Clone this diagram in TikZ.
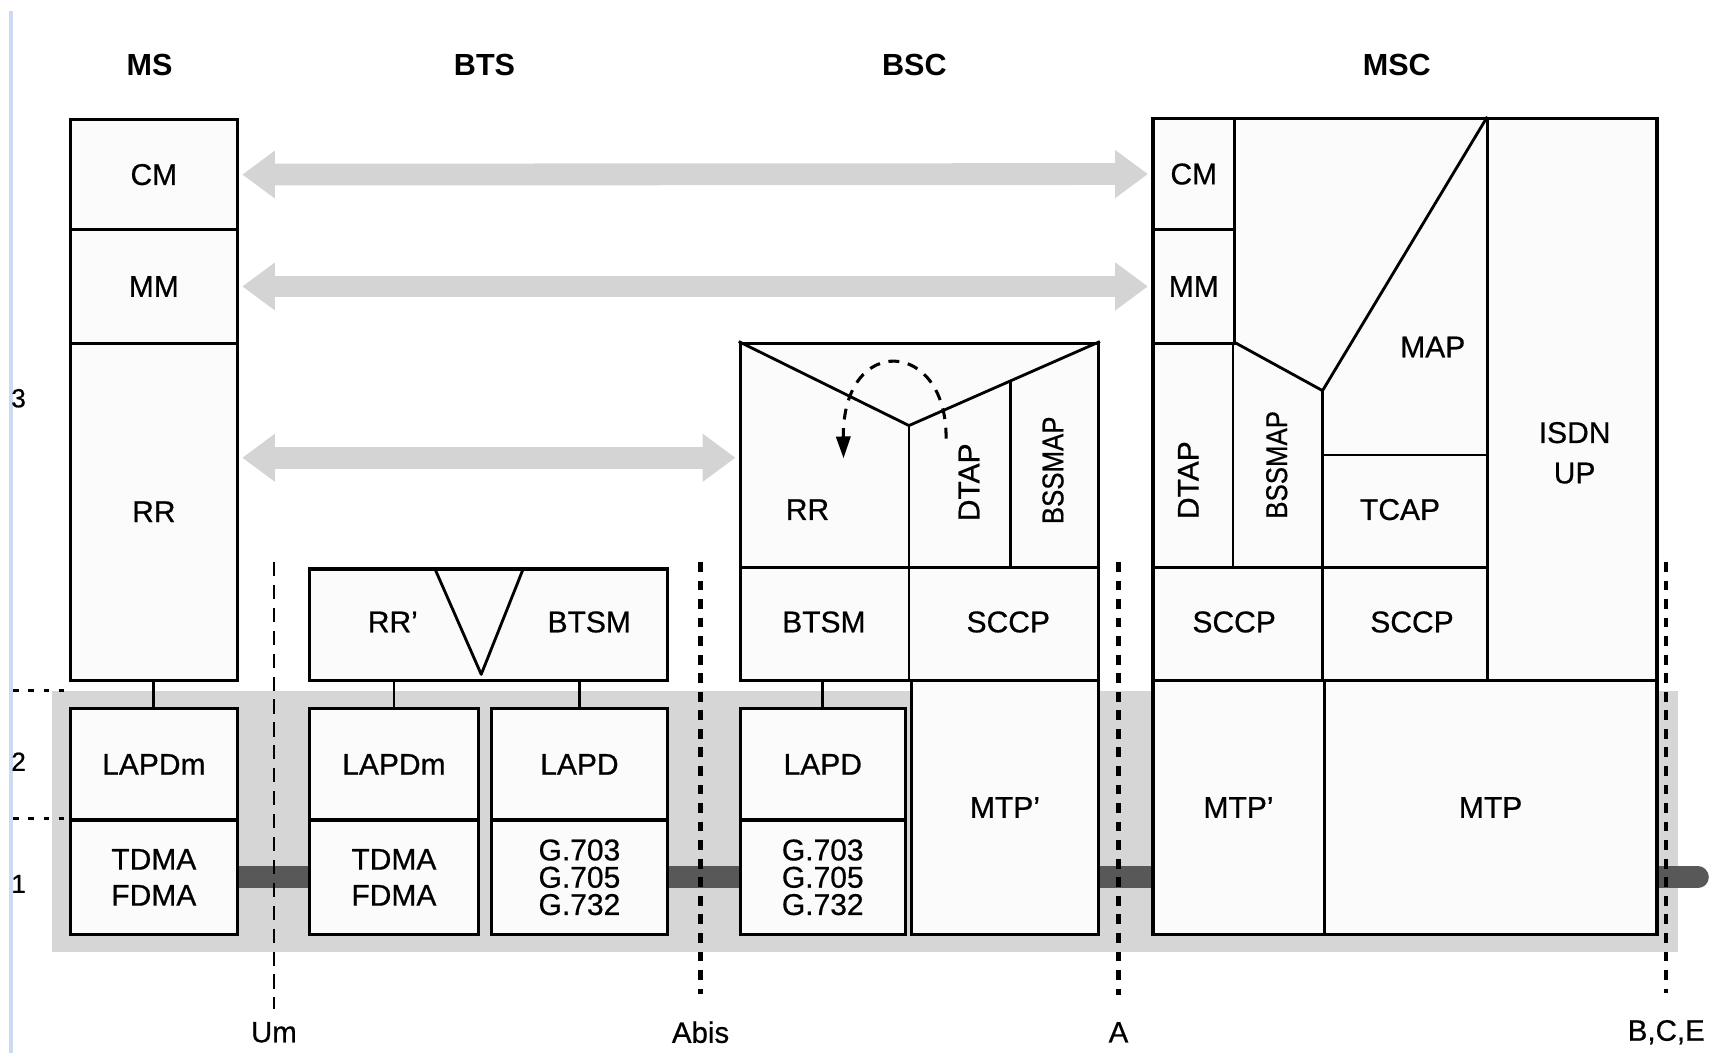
\documentclass[tikz,border=0pt]{standalone}
\usepackage{fontspec}
\usepackage{graphicx}
\setmainfont{Liberation Sans}
\newfontfamily\medfont[FakeBold=0.6]{Liberation Sans}
\usetikzlibrary{arrows.meta,backgrounds}
\definecolor{bandgray}{RGB}{214,214,214}
\definecolor{bargray}{RGB}{88,88,88}
\definecolor{arrowgray}{RGB}{212,212,212}
\definecolor{boxfill}{RGB}{251,251,251}
\definecolor{edgeblue}{RGB}{205,218,240}
\newcommand{\boxfnt}{\medfont\fontsize{27.5}{26}\selectfont}
\newcommand{\titlefnt}{\fontsize{28}{28}\selectfont\bfseries}
\newcommand{\smallfnt}{\medfont\fontsize{27}{26}\selectfont}
\newcommand{\numfnt}{\medfont\fontsize{24}{26}\selectfont}
\newcommand{\narrow}[1]{\scalebox{0.86}[1]{#1}}
\tikzset{
  box/.style={draw, line width=3pt, fill=boxfill, inner sep=0pt, anchor=north west, font=\boxfnt, align=center},
  lbl/.style={font=\boxfnt, inner sep=0pt, align=center},
  ttl/.style={font=\titlefnt, inner sep=0pt},
  ifl/.style={font=\smallfnt, inner sep=0pt},
  numl/.style={font=\numfnt, inner sep=0pt},
  inner/.style={line width=2.6pt, line join=round},
  bigarrow/.style={line width=20pt, draw=arrowgray, shorten <=3pt, shorten >=3pt,
     {Triangle[length=30pt,width=42pt]}-{Triangle[length=30pt,width=42pt]}},
  bar/.style={line width=20pt, draw=bargray},
  umline/.style={line width=2.2pt, dash pattern=on 13pt off 8pt},
  ifline/.style={line width=4pt, dash pattern=on 9pt off 8pt},
  dotline/.style={line width=3.2pt, dash pattern=on 5pt off 9pt},
  arcdash/.style={line width=2.8pt, dash pattern=on 10pt off 8pt, -{Triangle[length=20pt,width=13pt]}}
}
\begin{document}
\begin{tikzpicture}[x=1pt,y=-1pt]
\useasboundingbox (0,0) rectangle (1568,965);
\draw[edgeblue, line width=3pt] (10,10) -- (10,965);

% titles
\node[ttl] (tms) at (137,60) {MS};
\node[ttl] (tbts) at (444,60) {BTS};
\node[ttl] (tbsc) at (838,60) {BSC};
\node[ttl] (tmsc) at (1280,60) {MSC};

% layer numbers
\node[numl] (l3) at (17,365) {3};
\node[numl] (l2) at (17,698) {2};
\node[numl] (l1) at (17,810) {1};

% MS
\node[box, minimum width=153pt, minimum height=101pt] (mscm) at (63,108) {CM};
\node[box, minimum width=153pt, minimum height=104pt] (msmm) at (63,209) {MM};
\node[box, minimum width=153pt, minimum height=309pt] (msrr) at (63,313) {RR};
\node[box, minimum width=153pt, minimum height=102pt] (mslapdm) at (63,648) {LAPDm};
\node[box, minimum width=153pt, minimum height=105pt] (mstdma) at (63,750) {TDMA\\[7pt]FDMA};
\draw[inner] (msrr.south) -- (msrr.south |- mslapdm.north);

% BTS
\node[box, minimum width=328pt, minimum height=102pt] (btsup) at (282,520) {};
\draw[inner] (398,520) -- (441,618) -- (480,520);
\node[lbl] (btsrr) at (360,570) {RR’};
\node[lbl] (btsbtsm) at (540,570) {BTSM};
\node[box, minimum width=155pt, minimum height=102pt] (btslapdm) at (282,648) {LAPDm};
\node[box, minimum width=155pt, minimum height=105pt] (btstdma) at (282,750) {TDMA\\[7pt]FDMA};
\node[box, minimum width=161pt, minimum height=102pt] (btslapd) at (449,648) {LAPD};
\node[box, minimum width=161pt, minimum height=105pt] (btsg) at (449,750) {G.703\\[-1pt]G.705\\[-1pt]G.732};
\draw[inner] (btslapdm.north) -- (btslapdm.north |- btsup.south);
\draw[inner] (btslapd.north) -- (btslapd.north |- btsup.south);

% BSC
\node[box, minimum width=328pt, minimum height=309pt] (bscup) at (677,313) {};
\draw[inner] (bscup.north west) -- (833,390) -- (bscup.north east);
\draw[inner] (833,390) -- (833,622);
\draw[inner] (926,348.5) -- (926,520);
\draw[inner] (677,520) -- (1005,520);
\node[lbl] (bscrr) at (740,467) {RR};
\node[lbl, rotate=90] (bscdtap) at (888,442) {DTAP};
\node[lbl, rotate=90] (bscbssmap) at (965,431) {\narrow{BSSMAP}};
\node[lbl] (bscbtsm) at (755,570) {BTSM};
\node[lbl] (bscsccp) at (924,570) {SCCP};
\draw[arcdash] (867,402) .. controls (868,310) and (772,305) .. (773,420);
\node[box, minimum width=151pt, minimum height=102pt] (bsclapd) at (677,648) {LAPD};
\node[box, minimum width=151pt, minimum height=105pt] (bscg) at (677,750) {G.703\\[-1pt]G.705\\[-1pt]G.732};
\node[box, minimum width=171pt, minimum height=233pt] (bscmtp) at (834,622) {MTP’};
\draw[inner] (bsclapd.north) -- (bsclapd.north |- bscup.south);

% MSC
\node[box, minimum width=462pt, minimum height=515pt] (mscup) at (1055,107) {};
\node[box, minimum width=75pt, minimum height=102pt] (msccm) at (1055,107) {CM};
\node[box, minimum width=75pt, minimum height=104pt] (mscmm) at (1055,209) {MM};
\draw[inner] (1130,313) -- (1130,520);
\draw[inner] (1130,313) -- (1212,358) -- (1363,107);
\draw[inner] (1212,358) -- (1212,622);
\draw[inner] (1363,107) -- (1363,622);
\draw[inner] (1212,417) -- (1363,417);
\draw[inner] (1055,520) -- (1363,520);
\node[lbl] (mscmap) at (1313,318) {MAP};
\node[lbl, rotate=90] (mscdtap) at (1089,440) {DTAP};
\node[lbl, rotate=90] (mscbssmap) at (1170,426) {\narrow{BSSMAP}};
\node[lbl] (msctcap) at (1283,467) {TCAP};
\node[lbl] (mscisdn) at (1443,415) {ISDN\\[11pt]UP};
\node[lbl] (mscsccpa) at (1131,570) {SCCP};
\node[lbl] (mscsccpb) at (1294,570) {SCCP};
\node[box, minimum width=157pt, minimum height=233pt] (mscmtpp) at (1055,622) {MTP’};
\node[box, minimum width=305pt, minimum height=233pt] (mscmtp) at (1212,622) {MTP};

% grey peer arrows
\draw[bigarrow] (mscm.east) -- (msccm.west);
\draw[bigarrow] (msmm.east) -- (mscmm.west);
\draw[bigarrow] ([yshift=49.5pt]msrr.east) -- ([yshift=49.5pt]bscup.west);

% band and bars
\begin{pgfonlayer}{background}
\fill[bandgray] (48,633) rectangle (1538,872);
\draw[bar] (mstdma.east) -- (btstdma.west);
\draw[bar] (btsg.east) -- (bscg.west);
\draw[bar] (bscmtp.east |- bscg.east) -- (mscmtpp.west |- bscg.east);
\draw[bar, line cap=round] (mscmtp.east |- bscg.east) -- ++(36,0);
\end{pgfonlayer}

% left dotted layer separators
\draw[dotline] (12,633) -- (63,633);
\draw[dotline] (12,750) -- (mstdma.north west);

% interfaces
\node[ifl] (ium) at (251,946) {Um};
\node[ifl] (iabis) at (642,946) {Abis};
\node[ifl] (ia) at (1025,946) {A};
\node[ifl] (ibce) at (1527,946) {B,C,E};
\coordinate (cum) at (251,515);
\coordinate (cabis) at (642,515);
\coordinate (ca) at (1025,515);
\coordinate (cbce) at (1527,515);
\draw[umline] (cum) -- ([yshift=12pt]ium.north);
\draw[ifline] (cabis) -- ([yshift=25pt]iabis.north);
\draw[ifline] (ca) -- ([yshift=25pt]ia.north);
\draw[ifline] (cbce) -- ([yshift=25pt]ibce.north);
\end{tikzpicture}
\end{document}
